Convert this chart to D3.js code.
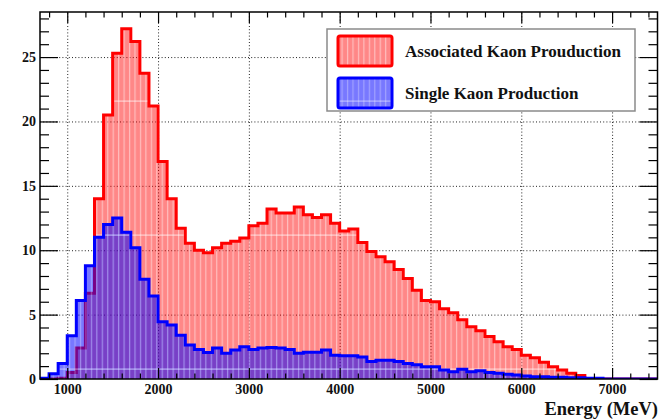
<!DOCTYPE html>
<html>
<head>
<meta charset="utf-8">
<script src="https://cdn.jsdelivr.net/npm/d3@7"></script>
<style>
  html, body { margin: 0; padding: 0; background: #fff; }
  svg { display: block; }
  text { font-family: "Liberation Serif", "Times New Roman", serif; font-weight: bold; fill: #111; }
</style>
</head>
<body>
<div id="chart"></div>
<script>
// Energy spectra, 100 MeV bins from 700 to 7500 MeV
const binEdges = d3.range(700, 7600, 100);

// Associated kaon production (counts per bin)
const associated = [
  0, 0, 0.05, 0.5, 2.4, 6.65, 14.0, 20.5, 25.3, 27.2,
  26.2, 23.75, 21.2, 16.9, 14.0, 11.7, 10.55, 10.0, 9.8, 10.2,
  10.55, 10.7, 10.95, 11.9, 12.1, 13.2, 12.9, 12.9, 13.35, 12.75,
  12.55, 12.75, 12.1, 11.5, 11.65, 10.6, 9.9, 9.5, 9.1, 8.5,
  7.8, 6.9, 6.1, 6.0, 5.45, 5.15, 4.6, 4.05, 3.75, 3.3,
  2.9, 2.5, 2.3, 1.85, 1.65, 1.3, 0.95, 0.7, 0.45, 0.28,
  0, 0, 0, 0, 0, 0, 0, 0
];

// Single kaon production (counts per bin)
const single = [
  0.05, 0.4, 1.2, 3.35, 6.1, 8.8, 11.0, 12.0, 12.5, 11.4,
  10.2, 7.75, 6.45, 4.45, 4.2, 3.4, 2.65, 2.3, 2.05, 2.4,
  2.0, 2.25, 2.5, 2.3, 2.4, 2.45, 2.4, 2.3, 2.0, 2.07,
  2.07, 2.25, 1.85, 1.8, 1.8, 1.7, 1.35, 1.45, 1.45, 1.35,
  1.2, 1.1, 0.95, 0.95, 0.7, 0.57, 0.75, 0.57, 0.65, 0.5,
  0.45, 0.36, 0.31, 0.23, 0.18, 0.18, 0.13, 0.13, 0.1, 0.1,
  0.05, 0.05, 0, 0, 0, 0, 0, 0
];

const xMajor = [1000, 2000, 3000, 4000, 5000, 6000, 7000];
const xMinor = [800, 1200, 1400, 1600, 1800, 2200, 2400, 2600, 2800, 3200, 3400, 3600, 3800,
                4200, 4400, 4600, 4800, 5200, 5400, 5600, 5800, 6200, 6400, 6600, 6800, 7200, 7400];
const yMajor = [0, 5, 10, 15, 20, 25];
const yMinor = [1, 2, 3, 4, 6, 7, 8, 9, 11, 12, 13, 14, 16, 17, 18, 19, 21, 22, 23, 24, 26, 27, 28];

const legendItems = [
  { label: "Associated Kaon Prouduction", key: "red" },
  { label: "Single Kaon Production", key: "blue" }
];
const xTitle = "Energy (MeV)";

const W = 659, H = 419;
const frame = { left: 40, right: 657.5, top: 12, bottom: 379 };

const x = d3.scaleLinear().domain([700, 7500]).range([frame.left, frame.right]);
const y = d3.scaleLinear().domain([0, 28.5]).range([frame.bottom, frame.top]);

const svg = d3.select("#chart").append("svg").attr("width", W).attr("height", H);
const defs = svg.append("defs");

// Hatched fills: translucent colour with fine white vertical stripes
function makePattern(id, colour, alpha, stripeAlpha) {
  const p = defs.append("pattern").attr("id", id)
    .attr("patternUnits", "userSpaceOnUse")
    .attr("width", 5.45).attr("height", 134);
  p.append("rect").attr("width", 5.45).attr("height", 134).attr("fill", colour).attr("fill-opacity", alpha);
  p.append("rect").attr("x", 3.6).attr("width", 1.2).attr("height", 134).attr("fill", "#fff").attr("fill-opacity", stripeAlpha);
  p.append("rect").attr("y", 100.5).attr("width", 5.45).attr("height", 1.2).attr("fill", "#fff").attr("fill-opacity", stripeAlpha + 0.15);
}
makePattern("hatchRed", "#ff0000", 0.47, 0.45);
makePattern("hatchBlue", "#0000ff", 0.53, 0.3);

defs.append("clipPath").attr("id", "plotClip").append("rect")
  .attr("x", frame.left).attr("y", frame.top - 2)
  .attr("width", frame.right - frame.left).attr("height", frame.bottom - frame.top + 2);

// Grid (dotted) at major ticks
const grid = svg.append("g").attr("class", "grid");
grid.append("g").attr("transform", `translate(0,${frame.bottom})`)
  .call(d3.axisBottom(x).tickValues(xMajor).tickSize(-(frame.bottom - frame.top)).tickFormat(""))
  .call(g => g.select(".domain").remove());
grid.append("g").attr("transform", `translate(${frame.left},0)`)
  .call(d3.axisLeft(y).tickValues(yMajor.filter(v => v > 0)).tickSize(-(frame.right - frame.left)).tickFormat(""))
  .call(g => g.select(".domain").remove());
grid.selectAll("line").attr("stroke", "#222").attr("stroke-width", 1).attr("stroke-dasharray", "1,2.2");

// Step outline of a histogram
function stepPoints(values) {
  const pts = [[x(binEdges[0]), y(0)]];
  values.forEach((v, i) => {
    pts.push([x(binEdges[i]), y(v)]);
    pts.push([x(binEdges[i + 1]), y(v)]);
  });
  pts.push([x(binEdges[values.length]), y(0)]);
  return pts;
}
const line = d3.line();

const plot = svg.append("g").attr("clip-path", "url(#plotClip)");

function drawHist(values, fillId, strokeColour) {
  const pts = stepPoints(values);
  plot.append("path").attr("d", line(pts) + "Z").attr("fill", `url(#${fillId})`).attr("stroke", "none");
  plot.append("path").attr("d", line(pts)).attr("fill", "none")
    .attr("stroke", strokeColour).attr("stroke-width", 3).attr("stroke-linejoin", "miter");
}
drawHist(associated, "hatchRed", "#ff0000");
drawHist(single, "hatchBlue", "#0000ff");

// Axes with inward ticks on all four sides
function styleAxis(g) {
  g.select(".domain").remove();
  g.selectAll("line").attr("stroke", "#000").attr("stroke-width", 1.2);
}
const xMajLen = 11, xMinLen = 5.5, yMajLen = 18, yMinLen = 9;

const bottomAxis = svg.append("g").attr("transform", `translate(0,${frame.bottom})`)
  .call(d3.axisBottom(x).tickValues(xMajor).tickSize(-xMajLen).tickPadding(5).tickFormat(d3.format("d")))
  .call(styleAxis);
bottomAxis.selectAll("text").attr("font-size", 14).attr("font-family", null).attr("fill", "#111");
svg.append("g").attr("transform", `translate(0,${frame.bottom})`)
  .call(d3.axisBottom(x).tickValues(xMinor).tickSize(-xMinLen).tickFormat(""))
  .call(styleAxis);

svg.append("g").attr("transform", `translate(0,${frame.top})`)
  .call(d3.axisTop(x).tickValues(xMajor).tickSize(-xMajLen).tickFormat(""))
  .call(styleAxis);
svg.append("g").attr("transform", `translate(0,${frame.top})`)
  .call(d3.axisTop(x).tickValues(xMinor).tickSize(-xMinLen).tickFormat(""))
  .call(styleAxis);

const leftAxis = svg.append("g").attr("transform", `translate(${frame.left},0)`)
  .call(d3.axisLeft(y).tickValues(yMajor).tickSize(-yMajLen).tickPadding(4).tickFormat(d3.format("d")))
  .call(styleAxis);
leftAxis.selectAll("text").attr("font-size", 14).attr("font-family", null).attr("fill", "#111");
svg.append("g").attr("transform", `translate(${frame.left},0)`)
  .call(d3.axisLeft(y).tickValues(yMinor).tickSize(-yMinLen).tickFormat(""))
  .call(styleAxis);

svg.append("g").attr("transform", `translate(${frame.right},0)`)
  .call(d3.axisRight(y).tickValues(yMajor).tickSize(-yMajLen).tickFormat(""))
  .call(styleAxis);
svg.append("g").attr("transform", `translate(${frame.right},0)`)
  .call(d3.axisRight(y).tickValues(yMinor).tickSize(-yMinLen).tickFormat(""))
  .call(styleAxis);

// Frame
svg.append("rect")
  .attr("x", frame.left).attr("y", frame.top)
  .attr("width", frame.right - frame.left).attr("height", frame.bottom - frame.top)
  .attr("fill", "none").attr("stroke", "#000").attr("stroke-width", 1.5);

// Axis title
svg.append("text").attr("x", 658).attr("y", 414.5).attr("text-anchor", "end")
  .attr("font-size", 18.5).text(xTitle);

// Legend
const lg = svg.append("g");
lg.append("rect").attr("x", 327).attr("y", 29).attr("width", 308).attr("height", 82)
  .attr("fill", "#fff").attr("stroke", "#8a8a8a").attr("stroke-width", 1.5);
const swatchY = [36, 78];
const baseY = [57, 99];
legendItems.forEach((item, i) => {
  const fillId = item.key === "red" ? "hatchRed" : "hatchBlue";
  const stroke = item.key === "red" ? "#ff0000" : "#0000ff";
  lg.append("rect").attr("x", 338).attr("y", swatchY[i]).attr("width", 54).attr("height", 30)
    .attr("rx", 2).attr("fill", "#fff").attr("stroke", "none");
  lg.append("rect").attr("x", 338).attr("y", swatchY[i]).attr("width", 54).attr("height", 30)
    .attr("rx", 2).attr("fill", `url(#${fillId})`).attr("stroke", stroke).attr("stroke-width", 3);
  lg.append("text").attr("x", 405).attr("y", baseY[i]).attr("font-size", 17).text(item.label);
});
</script>
</body>
</html>
